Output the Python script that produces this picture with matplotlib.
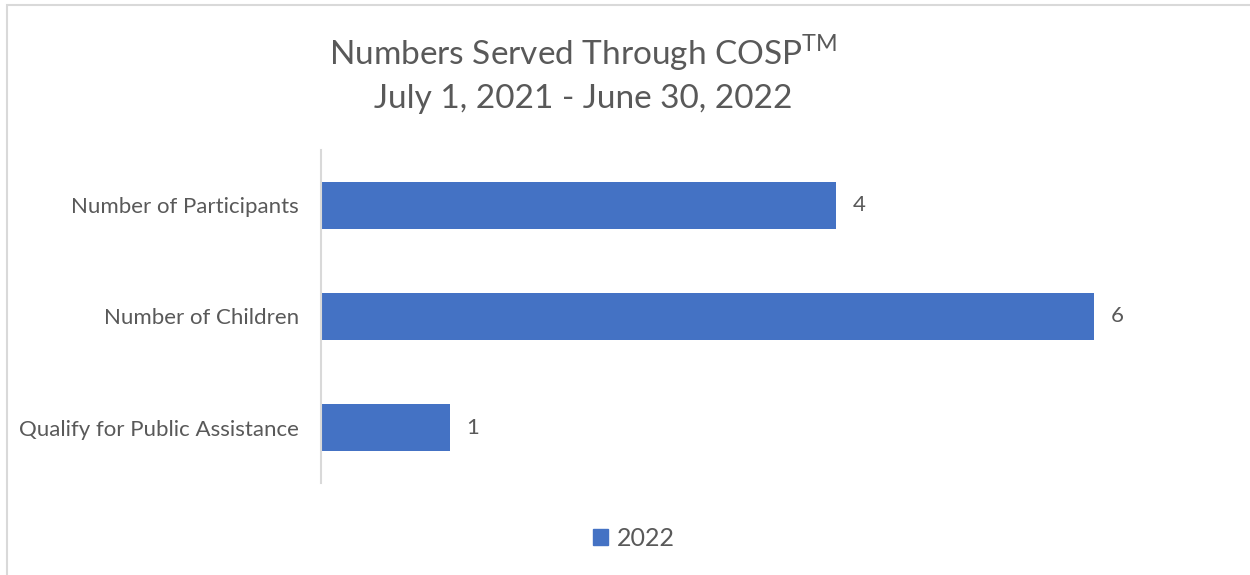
import matplotlib.pyplot as plt
from matplotlib.patches import Rectangle, Patch

plt.rcParams['font.family'] = ['Lato', 'DejaVu Sans']
plt.rcParams['mathtext.fontset'] = 'custom'
plt.rcParams['mathtext.rm'] = 'Lato'

categories = ["Qualify for Public Assistance", "Number of Children", "Number of Participants"]
values = [1, 6, 4]
series_name = "2022"
title_lines = ["Numbers Served Through COSP$^{\\mathrm{TM}}$", "July 1, 2021 - June 30, 2022"]

bar_color = "#4472C4"
text_color = "#595959"

fig = plt.figure(figsize=(12.5, 5.75), dpi=100)
ax = fig.add_axes([321/1250, 1-483/575, 902/1250, 333/575])

ypos = list(range(len(categories)))
bars = ax.barh(ypos, values, height=0.415, color=bar_color, label=series_name)
ax.set_xlim(0, 7)
ax.set_ylim(-0.5, len(categories) - 0.5)
ax.set_yticks(ypos)
ax.set_yticklabels(categories, fontsize=16, color=text_color)
ax.tick_params(axis='y', length=0, pad=16)
ax.set_xticks([])
for s in ['top', 'right', 'bottom']:
    ax.spines[s].set_visible(False)
ax.spines['left'].set_color('#D9D9D9')
ax.spines['left'].set_linewidth(1.5)

for y, v in zip(ypos, values):
    ax.annotate(str(v), (v, y), xytext=(12, 0), textcoords='offset points',
                va='center', ha='left', fontsize=16, color=text_color)

fig.text(583/1250, 1-53/575, title_lines[0], ha='center', va='center', fontsize=24, color=text_color)
fig.text(583/1250, 1-99/575, title_lines[1], ha='center', va='center', fontsize=24, color=text_color)

leg = fig.legend(handles=[Patch(color=bar_color, label=series_name)], loc='center',
                 bbox_to_anchor=(634/1250, 1-538/575), frameon=False, fontsize=18,
                 handlelength=0.6, handleheight=0.6, handletextpad=0.35)
for t in leg.get_texts():
    t.set_color(text_color)

fig.patches.append(Rectangle((6.5/1250, -0.1), 1.2, 1-5.5/575+0.1, transform=fig.transFigure,
                             fill=False, edgecolor='#D9D9D9', linewidth=1.5))

fig.savefig("out.png", dpi=100)
